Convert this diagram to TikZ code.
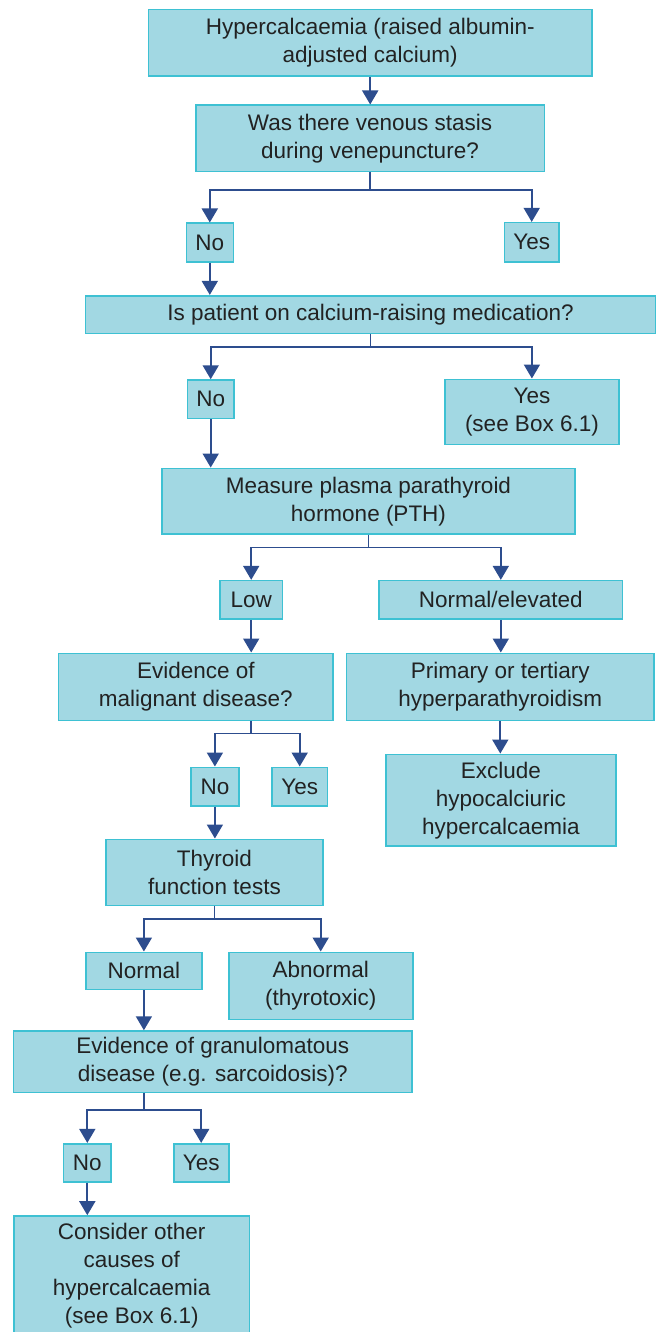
\documentclass[tikz,border=0pt]{standalone}
\usepackage{fontspec}
\setmainfont{Liberation Sans}
\usetikzlibrary{arrows.meta}
\definecolor{fillc}{HTML}{A2D8E3}
\definecolor{bordc}{HTML}{3EC1D3}
\definecolor{arrc}{HTML}{2D4D8E}
\definecolor{txtc}{HTML}{222222}
\tikzset{
  box/.style={draw=bordc, fill=fillc, line width=1.6pt, inner sep=0pt, align=center,
    font=\fontsize{22.5}{28}\selectfont, text=txtc},
  arr/.style={draw=arrc, line width=1.8pt, -{Triangle[length=14pt,width=16pt]}},
}
\newcommand{\bx}[6]{\node[box, minimum width=#4pt, minimum height=#5pt] (#1) at (#2,#3) {#6};}
\begin{document}
\begin{tikzpicture}[x=1pt,y=-1pt]
\useasboundingbox (0,0) rectangle (658,1332);
\bx{h1}{370.2}{42.7}{443.7}{66.7}{Hypercalcaemia (raised albumin-\\adjusted calcium)}
\bx{q1}{370}{138.5}{348.6}{66.4}{Was there venous stasis\\during venepuncture?}
\bx{no1}{209.8}{242.5}{47}{38.4}{No}
\bx{yes1}{531.7}{242.2}{54.7}{39}{Yes}
\bx{q2}{370.5}{314.5}{570}{37.6}{Is patient on calcium-raising medication?}
\bx{no2}{210.7}{399.2}{46.6}{38.3}{No}
\bx{yes2}{531.9}{411.8}{174}{65}{Yes\\(see Box 6.1)}
\bx{measure}{368.5}{501.2}{413}{65.7}{Measure plasma parathyroid\\hormone (PTH)}
\bx{low}{251.2}{599.8}{62.8}{38.3}{Low}
\bx{normel}{500.8}{599.8}{243.5}{38.3}{Normal/elevated}
\bx{malig}{195.8}{686.8}{274.4}{67}{Evidence of\\malignant disease?}
\bx{primary}{500.3}{686.8}{307.5}{67}{Primary or tertiary\\hyperparathyroidism}
\bx{no3}{214.9}{786.5}{48.2}{38.4}{No}
\bx{yes3}{299.7}{786.5}{55.3}{38.4}{Yes}
\bx{exclude}{500.9}{800.2}{230.3}{91.7}{Exclude\\hypocalciuric\\hypercalcaemia}
\bx{thyroid}{214.5}{872.3}{217}{66}{Thyroid\\function tests}
\bx{normal}{143.9}{970.9}{116.3}{37.2}{Normal}
\bx{abnormal}{320.7}{985.8}{184}{67}{Abnormal\\(thyrotoxic)}
\bx{gran}{212.8}{1061.7}{398.3}{61.3}{Evidence of granulomatous\\disease (e.g. sarcoidosis)?}
\bx{no4}{87.3}{1162.7}{47.3}{38}{No}
\bx{yes4}{201.2}{1162.7}{55}{38}{Yes}
\bx{consider}{131.7}{1275.5}{235.3}{119}{Consider other\\causes of\\hypercalcaemia\\(see Box 6.1)}

\draw[arr] (h1.south) -- (h1.south |- q1.north);
\draw[arr] (q1.south) -- ++(0,17.6) -| (no1.north);
\draw[arr] (q1.south) -- ++(0,17.6) -| (yes1.north);
\draw[arr] (no1.south) -- (no1.south |- q2.north);
\draw[arr] (q2.south) -- ++(0,12.7) -| (no2.north);
\draw[arr] (q2.south) -- ++(0,12.7) -| (yes2.north);
\draw[arr] (no2.south) -- (no2.south |- measure.north);
\draw[arr] (measure.south) -- ++(0,12.7) -| (low.north);
\draw[arr] (measure.south) -- ++(0,12.7) -| (normel.north);
\draw[arr] (low.south) -- (low.south |- malig.north);
\draw[arr] (normel.south) -- (normel.south |- primary.north);
\draw[arr] (primary.south) -- (primary.south |- exclude.north);
\draw[arr] (low |- malig.south) -- ++(0,12.4) -| (no3.north);
\draw[arr] (low |- malig.south) -- ++(0,12.4) -| (yes3.north);
\draw[arr] (no3.south) -- (no3.south |- thyroid.north);
\draw[arr] (thyroid.south) -- ++(0,12.7) -| (normal.north);
\draw[arr] (thyroid.south) -- ++(0,12.7) -| (abnormal.north);
\draw[arr] (normal.south) -- (normal.south |- gran.north);
\draw[arr] (normal |- gran.south) -- ++(0,17) -| (no4.north);
\draw[arr] (normal |- gran.south) -- ++(0,17) -| (yes4.north);
\draw[arr] (no4.south) -- (no4.south |- consider.north);
\end{tikzpicture}
\end{document}
